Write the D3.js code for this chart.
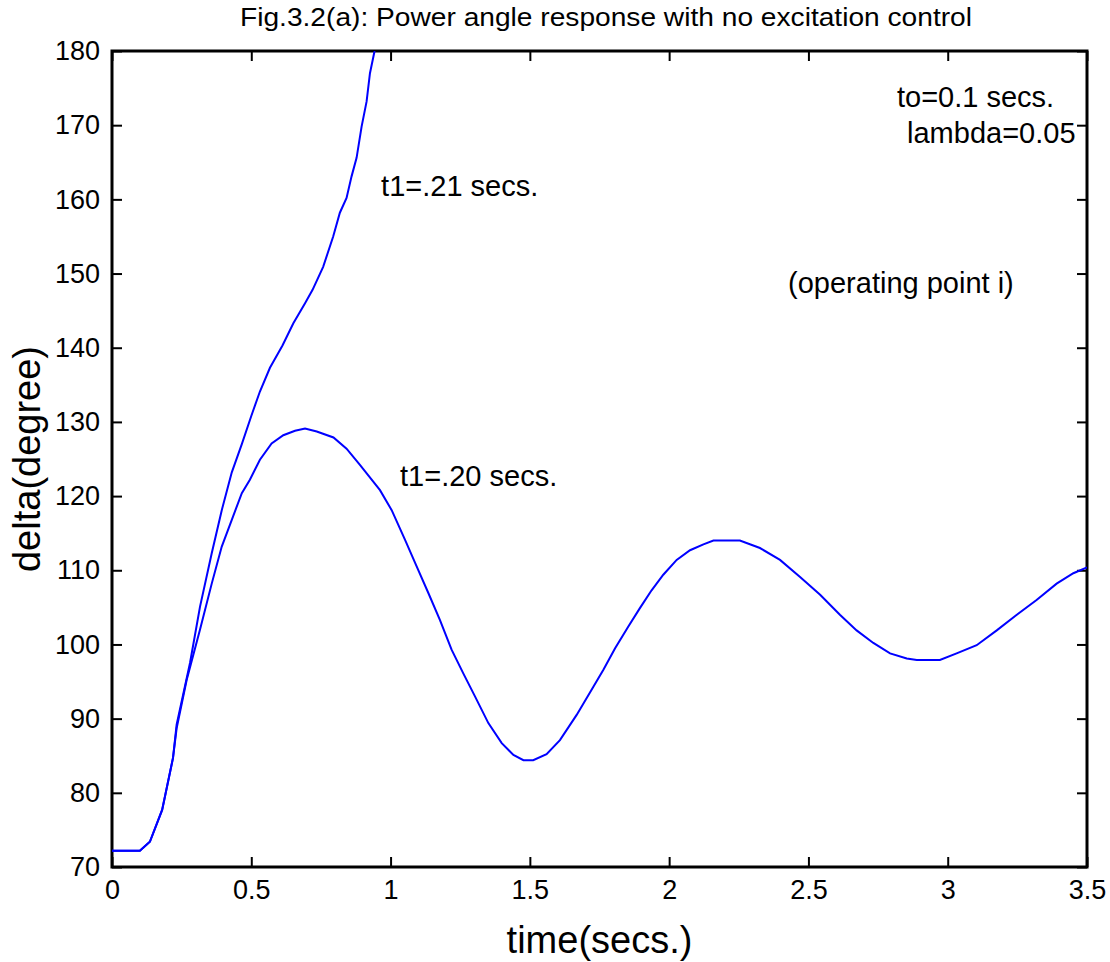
<!DOCTYPE html>
<html>
<head>
<meta charset="utf-8">
<script src="https://cdn.jsdelivr.net/npm/d3@7"></script>
<style>
  body { margin: 0; background: #fff; }
  text { font-family: "Liberation Sans", Arial, sans-serif; fill: #000; }
  .axis path { display: none; }
  .axis line { stroke: #000; stroke-width: 2; }
  .axis text { font-size: 27px; font-family: "Liberation Sans", Arial, sans-serif; }
</style>
</head>
<body>
<div class="chart"></div>
<script>
// t1 = .20 secs (stable swing)
const timeStable = [0, 0.1, 0.136, 0.18, 0.219, 0.232, 0.268, 0.316, 0.358, 0.394, 0.43, 0.466, 0.495, 0.531, 0.573, 0.615, 0.657, 0.693, 0.735, 0.795, 0.842, 0.89, 0.962, 1.004, 1.052, 1.094, 1.136, 1.177, 1.219, 1.261, 1.303, 1.351, 1.399, 1.441, 1.477, 1.512, 1.56, 1.608, 1.668, 1.728, 1.764, 1.806, 1.853, 1.895, 1.937, 1.979, 2.027, 2.075, 2.123, 2.159, 2.254, 2.326, 2.398, 2.47, 2.542, 2.613, 2.673, 2.733, 2.793, 2.853, 2.889, 2.972, 3.032, 3.104, 3.176, 3.248, 3.319, 3.391, 3.451, 3.5];
const deltaStable = [72.2, 72.2, 73.4, 77.7, 84.7, 88.7, 95.2, 102.0, 108.2, 113.2, 116.8, 120.4, 122.2, 124.9, 127.1, 128.2, 128.8, 129.1, 128.7, 127.9, 126.4, 124.2, 120.8, 118.1, 114.1, 110.5, 106.9, 103.3, 99.3, 96.1, 93.0, 89.4, 86.7, 85.1, 84.4, 84.4, 85.2, 87.1, 90.5, 94.3, 96.6, 99.5, 102.4, 104.9, 107.3, 109.4, 111.4, 112.7, 113.5, 114.0, 114.0, 113.0, 111.4, 109.1, 106.7, 104.0, 101.9, 100.2, 98.8, 98.1, 97.9, 97.9, 98.8, 99.9, 101.9, 104.0, 106.0, 108.2, 109.6, 110.4];

// t1 = .21 secs (loses synchronism)
const timeUnstable = [0, 0.1, 0.136, 0.18, 0.219, 0.232, 0.28, 0.316, 0.358, 0.394, 0.43, 0.466, 0.5, 0.531, 0.567, 0.612, 0.651, 0.693, 0.72, 0.758, 0.794, 0.818, 0.842, 0.86, 0.878, 0.896, 0.914, 0.926, 0.942, 0.95];
const deltaUnstable = [72.2, 72.2, 73.4, 77.7, 84.7, 89.2, 97.5, 105.1, 112.3, 118.1, 123.2, 127.0, 130.8, 134.1, 137.3, 140.3, 143.3, 146.0, 147.8, 150.9, 155.0, 158.2, 160.2, 163.1, 165.6, 169.8, 173.2, 177.0, 179.9, 182.0];

const xTicks = [0, 0.5, 1, 1.5, 2, 2.5, 3, 3.5];
const yTicks = [70, 80, 90, 100, 110, 120, 130, 140, 150, 160, 170, 180];

const margin = { top: 51, right: 23, bottom: 95, left: 112 };
const width = 1110 - margin.left - margin.right,
    height = 962 - margin.top - margin.bottom;

const xScale = d3.scaleLinear().domain([0, 3.5]).range([0, width]);
const yScale = d3.scaleLinear().domain([70, 180]).range([height, 0]);

const svg = d3
    .select(".chart")
    .append("svg")
    .attr("width", 1110)
    .attr("height", 962);

const g = svg.append("g")
    .attr("transform", `translate(${margin.left},${margin.top})`);

svg.append("defs").append("clipPath").attr("id", "plot")
    .append("rect").attr("width", width).attr("height", height);

// Axes, ticks pointing inward on all four sides
g.append("g").attr("class", "axis")
    .attr("transform", `translate(0,${height})`)
    .call(d3.axisBottom(xScale).tickValues(xTicks).tickSizeInner(-10).tickSizeOuter(0).tickPadding(13).tickFormat(d3.format("")));
g.append("g").attr("class", "axis")
    .call(d3.axisTop(xScale).tickValues(xTicks).tickSizeInner(-10).tickSizeOuter(0).tickFormat(""));
g.append("g").attr("class", "axis")
    .call(d3.axisLeft(yScale).tickValues(yTicks).tickSizeInner(-10).tickSizeOuter(0).tickPadding(12));
g.append("g").attr("class", "axis")
    .attr("transform", `translate(${width},0)`)
    .call(d3.axisRight(yScale).tickValues(yTicks).tickSizeInner(-10).tickSizeOuter(0).tickFormat(""));

g.append("rect")
    .attr("width", width)
    .attr("height", height)
    .attr("fill", "none")
    .attr("stroke", "#000")
    .attr("stroke-width", 3);

const line = d3.line()
    .x((d) => xScale(d[0]))
    .y((d) => yScale(d[1]));

const curves = [
    d3.zip(timeStable, deltaStable),
    d3.zip(timeUnstable, deltaUnstable)
];

g.append("g").attr("clip-path", "url(#plot)")
    .selectAll("path")
    .data(curves)
    .enter()
    .append("path")
    .attr("d", line)
    .attr("fill", "none")
    .attr("stroke", "#0000ff")
    .attr("stroke-width", 2);

// Annotations
const notes = [
    { t: "t1=.21 secs.", x: 0.966, y: 160.45 },
    { t: "t1=.20 secs.", x: 1.034, y: 121.4 },
    { t: "to=0.1 secs.", x: 2.818, y: 172.45 },
    { t: "lambda=0.05", x: 2.854, y: 167.6 },
    { t: "(operating point i)", x: 2.427, y: 147.4 }
];
g.selectAll(".note")
    .data(notes)
    .enter()
    .append("text")
    .attr("class", "note")
    .attr("x", (d) => xScale(d.x))
    .attr("y", (d) => yScale(d.y))
    .style("font-size", "29px")
    .text((d) => d.t);

svg.append("text")
    .attr("x", 606)
    .attr("y", 26)
    .attr("text-anchor", "middle")
    .attr("textLength", 732)
    .attr("lengthAdjust", "spacingAndGlyphs")
    .style("font-size", "26px")
    .text("Fig.3.2(a): Power angle response with no excitation control");

svg.append("text")
    .attr("x", margin.left + width / 2)
    .attr("y", 953)
    .attr("text-anchor", "middle")
    .style("font-size", "38px")
    .text("time(secs.)");

svg.append("text")
    .attr("transform", `translate(40,${margin.top + height / 2}) rotate(-90)`)
    .attr("text-anchor", "middle")
    .style("font-size", "38px")
    .text("delta(degree)");
</script>
</body>
</html>
